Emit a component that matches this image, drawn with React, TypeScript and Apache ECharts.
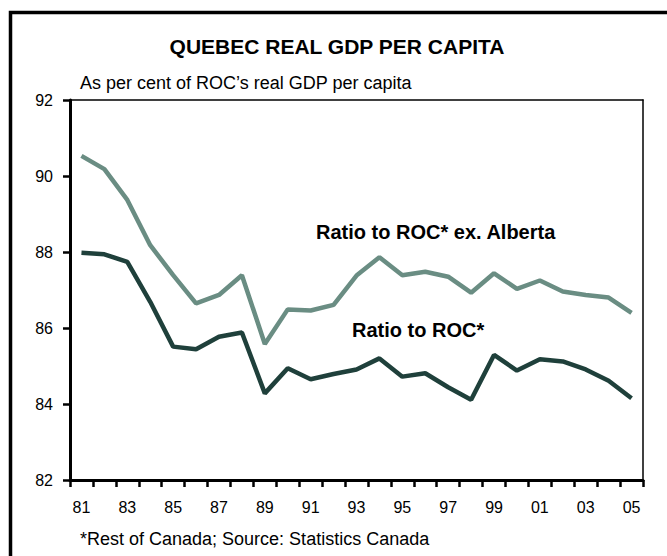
import React, { useEffect, useRef } from "react";
import * as echarts from "echarts";

const years: string[] = [
  "81", "82", "83", "84", "85", "86", "87", "88", "89", "90", "91", "92", "93",
  "94", "95", "96", "97", "98", "99", "00", "01", "02", "03", "04", "05",
];

const ratioExAlberta: number[] = [
  90.53, 90.18, 89.37, 88.18, 87.39, 86.65, 86.87, 87.39, 85.58, 86.49, 86.46, 86.61, 87.38,
  87.86, 87.39, 87.48, 87.35, 86.93, 87.44, 87.03, 87.25, 86.96, 86.87, 86.8, 86.4,
];

const ratioROC: number[] = [
  87.98, 87.94, 87.74, 86.69, 85.51, 85.44, 85.77, 85.88, 84.28, 84.94, 84.65, 84.79, 84.91,
  85.2, 84.72, 84.81, 84.44, 84.11, 85.29, 84.88, 85.18, 85.12, 84.91, 84.61, 84.15,
];

const yMin = 82;
const yMax = 92;
const yStep = 2;

const titleText = "QUEBEC REAL GDP PER CAPITA";
const subtitleText = "As per cent of ROC\u2019s real GDP per capita";
const footerText = "*Rest of Canada; Source: Statistics Canada";
const labelExAlberta = "Ratio to ROC* ex. Alberta";
const labelROC = "Ratio to ROC*";

const FONT = '"Liberation Sans", Arial, Helvetica, sans-serif';

export default function App() {
  const ref = useRef<HTMLDivElement>(null);

  useEffect(() => {
    if (!ref.current) return;
    const chart = echarts.init(ref.current, undefined, { renderer: "svg" });
    chart.setOption({
      animation: false,
      backgroundColor: "#ffffff",
      grid: { left: 70, top: 100, width: 573, height: 380 },
      xAxis: [
        {
          type: "category",
          data: years,
          position: "bottom",
          boundaryGap: true,
          axisLine: { show: true, onZero: false, lineStyle: { color: "#000000", width: 3 } },
          axisTick: {
            show: true,
            interval: 0,
            length: 7,
            lineStyle: { color: "#000000", width: 2.5 },
          },
          axisLabel: {
            interval: 1,
            margin: 19,
            color: "#000000",
            fontSize: 16,
            fontFamily: FONT,
          },
          splitLine: { show: false },
        },
        {
          type: "category",
          data: years,
          position: "top",
          boundaryGap: true,
          axisLine: { show: true, onZero: false, lineStyle: { color: "#000000", width: 1.5 } },
          axisTick: { show: false },
          axisLabel: { show: false },
          splitLine: { show: false },
        },
      ],
      yAxis: [
        {
          type: "value",
          min: yMin,
          max: yMax,
          interval: yStep,
          position: "left",
          axisLine: { show: true, onZero: false, lineStyle: { color: "#000000", width: 3 } },
          axisTick: { show: true, length: 7, lineStyle: { color: "#000000", width: 2.5 } },
          axisLabel: { margin: 17, color: "#000000", fontSize: 16, fontFamily: FONT },
          splitLine: { show: false },
        },
        {
          type: "value",
          min: yMin,
          max: yMax,
          interval: yStep,
          position: "right",
          axisLine: { show: true, onZero: false, lineStyle: { color: "#000000", width: 1.5 } },
          axisTick: { show: false },
          axisLabel: { show: false },
          splitLine: { show: false },
        },
      ],
      series: [
        {
          name: labelExAlberta,
          type: "line",
          data: ratioExAlberta,
          symbol: "none",
          lineStyle: { color: "#6a8d83", width: 4.5 },
          z: 3,
        },
        {
          name: labelROC,
          type: "line",
          data: ratioROC,
          symbol: "none",
          lineStyle: { color: "#1f403b", width: 4.5 },
          z: 4,
        },
      ],
      graphic: [
        {
          type: "rect",
          shape: { x: 10.5, y: 12.5, width: 720, height: 620 },
          style: { fill: "none", stroke: "#000000", lineWidth: 3.5 },
        },
        {
          type: "text",
          x: 337,
          y: 46,
          style: {
            text: titleText,
            fontSize: 21,
            fontWeight: "bold",
            fontFamily: FONT,
            fill: "#000",
            align: "center",
            verticalAlign: "middle",
          },
        },
        {
          type: "text",
          x: 80,
          y: 83,
          style: {
            text: subtitleText,
            fontSize: 18,
            fontFamily: FONT,
            fill: "#000",
            align: "left",
            verticalAlign: "middle",
          },
        },
        {
          type: "text",
          x: 316,
          y: 232,
          style: {
            text: labelExAlberta,
            fontSize: 20,
            fontWeight: "bold",
            fontFamily: FONT,
            fill: "#000",
            align: "left",
            verticalAlign: "middle",
          },
        },
        {
          type: "text",
          x: 352,
          y: 330,
          style: {
            text: labelROC,
            fontSize: 20,
            fontWeight: "bold",
            fontFamily: FONT,
            fill: "#000",
            align: "left",
            verticalAlign: "middle",
          },
        },
        {
          type: "text",
          x: 80,
          y: 539,
          style: {
            text: footerText,
            fontSize: 18,
            fontFamily: FONT,
            fill: "#000",
            align: "left",
            verticalAlign: "middle",
          },
        },
      ],
    });
    return () => chart.dispose();
  }, []);

  return (
    <div
      ref={ref}
      style={{ position: "fixed", left: 0, top: 0, width: 667, height: 556, background: "#fff" }}
    />
  );
}
